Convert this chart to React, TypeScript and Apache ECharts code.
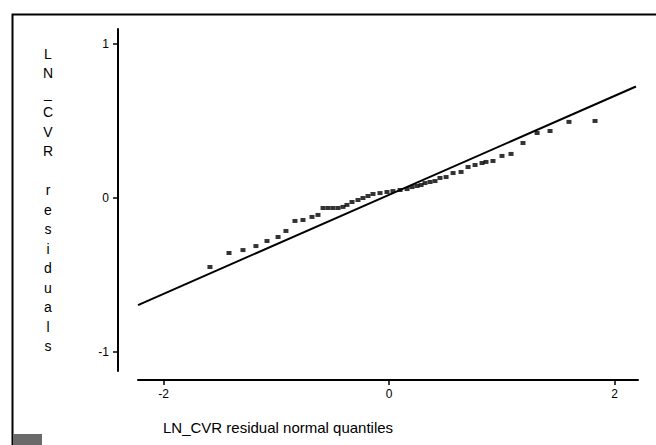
import React, { useEffect, useRef } from "react";
import * as echarts from "echarts";

// Normal quantile plot of LN_CVR residuals
const quantiles = [
  -1.588, -1.419, -1.295, -1.18, -1.082, -0.984, -0.914, -0.834, -0.763, -0.683,
  -0.63, -0.585, -0.541, -0.497, -0.452, -0.408, -0.373, -0.328, -0.275, -0.231,
  -0.186, -0.142, -0.08, -0.018, 0.035, 0.098, 0.16, 0.204, 0.248, 0.284,
  0.319, 0.364, 0.408, 0.452, 0.506, 0.568, 0.639, 0.701, 0.763, 0.825,
  0.86, 0.922, 1.002, 1.082, 1.188, 1.313, 1.428, 1.596, 1.827,
];
const residuals = [
  -0.448, -0.357, -0.338, -0.312, -0.279, -0.253, -0.214, -0.149, -0.143, -0.123,
  -0.11, -0.065, -0.065, -0.065, -0.065, -0.058, -0.045, -0.026, -0.013, 0.0,
  0.013, 0.026, 0.032, 0.039, 0.045, 0.052, 0.058, 0.071, 0.078, 0.084,
  0.097, 0.104, 0.11, 0.13, 0.136, 0.162, 0.169, 0.201, 0.214, 0.227,
  0.234, 0.24, 0.273, 0.286, 0.357, 0.422, 0.435, 0.494, 0.5,
];
const fitX = [-2.226, 2.19];
const fitY = [-0.695, 0.724];
const xTicks = [-2, 0, 2];
const yTicks = [-1, 0, 1];
const xTitle = "LN_CVR residual normal quantiles";
const yTitle = ["L", "N", "_", "C", "V", "R", " ", "r", "e", "s", "i", "d", "u", "a", "l", "s"];

const FONT = "'Liberation Sans', Arial, Helvetica, sans-serif";

export default function App() {
  const ref = useRef<HTMLDivElement>(null);
  useEffect(() => {
    if (!ref.current) return;
    const chart = echarts.init(ref.current, undefined, { renderer: "svg" });
    const points = quantiles.map((q, i) => [q, residuals[i]]);
    const fit = fitX.map((x, i) => [x, fitY[i]]);
    chart.setOption({
      animation: false,
      backgroundColor: "#ffffff",
      textStyle: { fontFamily: FONT, color: "#000" },
      grid: { left: 138, right: 18, top: 29, bottom: 74 },
      xAxis: {
        type: "value",
        min: -2.226,
        max: 2.208,
        offset: 9,
        axisLine: { show: true, onZero: false, lineStyle: { color: "#000", width: 2 } },
        axisTick: { show: true, customValues: xTicks, length: 5, lineStyle: { color: "#000", width: 1.5 } },
        axisLabel: { customValues: xTicks, margin: 8, color: "#000", fontSize: 12, fontFamily: FONT },
        splitLine: { show: false },
      },
      yAxis: {
        type: "value",
        min: -1.123,
        max: 1.097,
        offset: 20,
        name: yTitle.join("\n"),
        nameLocation: "middle",
        nameRotate: 0,
        nameGap: 70,
        nameTextStyle: {
          align: "center",
          verticalAlign: "middle",
          fontSize: 14,
          lineHeight: 19.5,
          color: "#000",
          fontFamily: FONT,
        },
        axisLine: { show: true, onZero: false, lineStyle: { color: "#000", width: 2 } },
        axisTick: { show: true, customValues: yTicks, length: 5, lineStyle: { color: "#000", width: 1.5 } },
        axisLabel: { customValues: yTicks, margin: 9, color: "#000", fontSize: 12, fontFamily: FONT },
        splitLine: { show: false },
      },
      graphic: [
        {
          type: "polyline",
          shape: { points: [[12.5, 445], [12.5, 14.5], [656, 14.5]] },
          style: { stroke: "#000", lineWidth: 2, fill: null },
          silent: true,
        },
        {
          type: "rect",
          shape: { x: 13, y: 434, width: 29, height: 11 },
          style: { fill: "#6a6a6a" },
          silent: true,
        },
        {
          type: "text",
          x: 163,
          y: 427,
          style: {
            text: xTitle,
            fontSize: 15,
            fontFamily: FONT,
            fill: "#000",
            textVerticalAlign: "middle",
            verticalAlign: "middle",
          },
          silent: true,
        },
      ],
      series: [
        {
          type: "line",
          data: fit,
          symbol: "none",
          lineStyle: { color: "#000", width: 2 },
          silent: true,
          z: 2,
        },
        {
          type: "scatter",
          data: points,
          symbol: "rect",
          symbolSize: [5, 4],
          itemStyle: { color: "#000" },
          silent: true,
          z: 3,
        },
      ],
    });
    return () => chart.dispose();
  }, []);
  return (
    <div
      ref={ref}
      style={{ position: "fixed", left: 0, top: 0, width: 656, height: 445, background: "#fff" }}
    />
  );
}
